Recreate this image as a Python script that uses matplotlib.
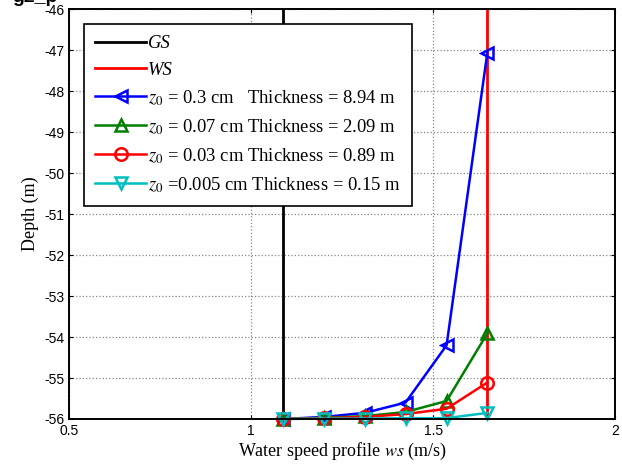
import matplotlib
matplotlib.use("Agg")
import matplotlib.pyplot as plt

plt.rcParams["axes.unicode_minus"] = False
plt.rcParams["mathtext.fontset"] = "stix"

# Water speed sampling positions (m/s)
ws = [1.088, 1.200, 1.312, 1.424, 1.537, 1.649]

# Depth profiles (m) for each roughness length
depth_z03 = [-56.00, -55.95, -55.85, -55.60, -54.20, -47.06]
depth_z007 = [-56.00, -55.97, -55.93, -55.83, -55.56, -53.91]
depth_z003 = [-56.00, -55.98, -55.95, -55.88, -55.75, -55.11]
depth_z0005 = [-56.00, -55.99, -55.99, -55.98, -55.98, -55.85]

# Reference speeds: grain (GS) and water (WS)
gs_x = [1.088, 1.088]
ws_x = [1.649, 1.649]
ref_y = [-56, -46]

labels = [
    r"$z_0$ = 0.3 cm   Thickness = 8.94 m",
    r"$z_0$ = 0.07 cm Thickness = 2.09 m",
    r"$z_0$ = 0.03 cm Thickness = 0.89 m",
    r"$z_0$ =0.005 cm Thickness = 0.15 m",
]
x_ticks = [0.5, 1, 1.5, 2]
x_ticklabels = ["0.5", "1", "1.5", "2"]
y_ticks = list(range(-56, -45))

fig = plt.figure(figsize=(6.22, 4.67), dpi=100)
ax = fig.add_axes([0.1117, 0.1028, 0.8770, 0.8772])

ax.plot(gs_x, ref_y, color="black", lw=2.0, label="GS")
ax.plot(ws_x, ref_y, color="red", lw=2.0, label="WS")

series = [
    (depth_z03, "blue", "<"),
    (depth_z007, "green", "^"),
    (depth_z003, "red", "o"),
    (depth_z0005, "#00BFBF", "v"),
]
for (d, c, m), lab in zip(series, labels):
    ax.plot(ws, d, color=c, lw=1.8, marker=m, ms=9, mfc="none",
            mew=1.8, label=lab, clip_on=False)

ax.set_xlim(0.5, 2)
ax.set_ylim(-56, -46)
ax.set_xticks(x_ticks)
ax.set_xticklabels(x_ticklabels)
ax.set_yticks(y_ticks)
ax.tick_params(direction="in", top=True, right=True, length=3,
               labelsize=10, width=0.8)
for lab in ax.get_xticklabels() + ax.get_yticklabels():
    lab.set_family("Liberation Sans")
ax.grid(True, color="#888888", ls=":", lw=0.9)
for s in ax.spines.values():
    s.set_linewidth(1.4)

serif = "Liberation Serif"
ax.set_xlabel(r"Water speed profile $\it{ws}$ (m/s)", family=serif,
              fontsize=13, labelpad=2)
ax.set_ylabel("Depth (m)", family=serif, fontsize=13, labelpad=4)

leg = ax.legend(loc="upper left", bbox_to_anchor=(0.0266, 0.964),
                borderaxespad=0, prop={"family": serif, "size": 13.4},
                handlelength=2.75, handletextpad=0.08, borderpad=0.6,
                labelspacing=0.5, fancybox=False, edgecolor="black",
                framealpha=1)
leg.get_frame().set_linewidth(1.2)
for t in leg.get_texts()[:2]:
    t.set_style("italic")

fig.text(0.02, 0.9955, "g2_p", fontsize=14, weight="bold",
         family="Liberation Sans", va="baseline")

fig.savefig("out.png", dpi=100)
